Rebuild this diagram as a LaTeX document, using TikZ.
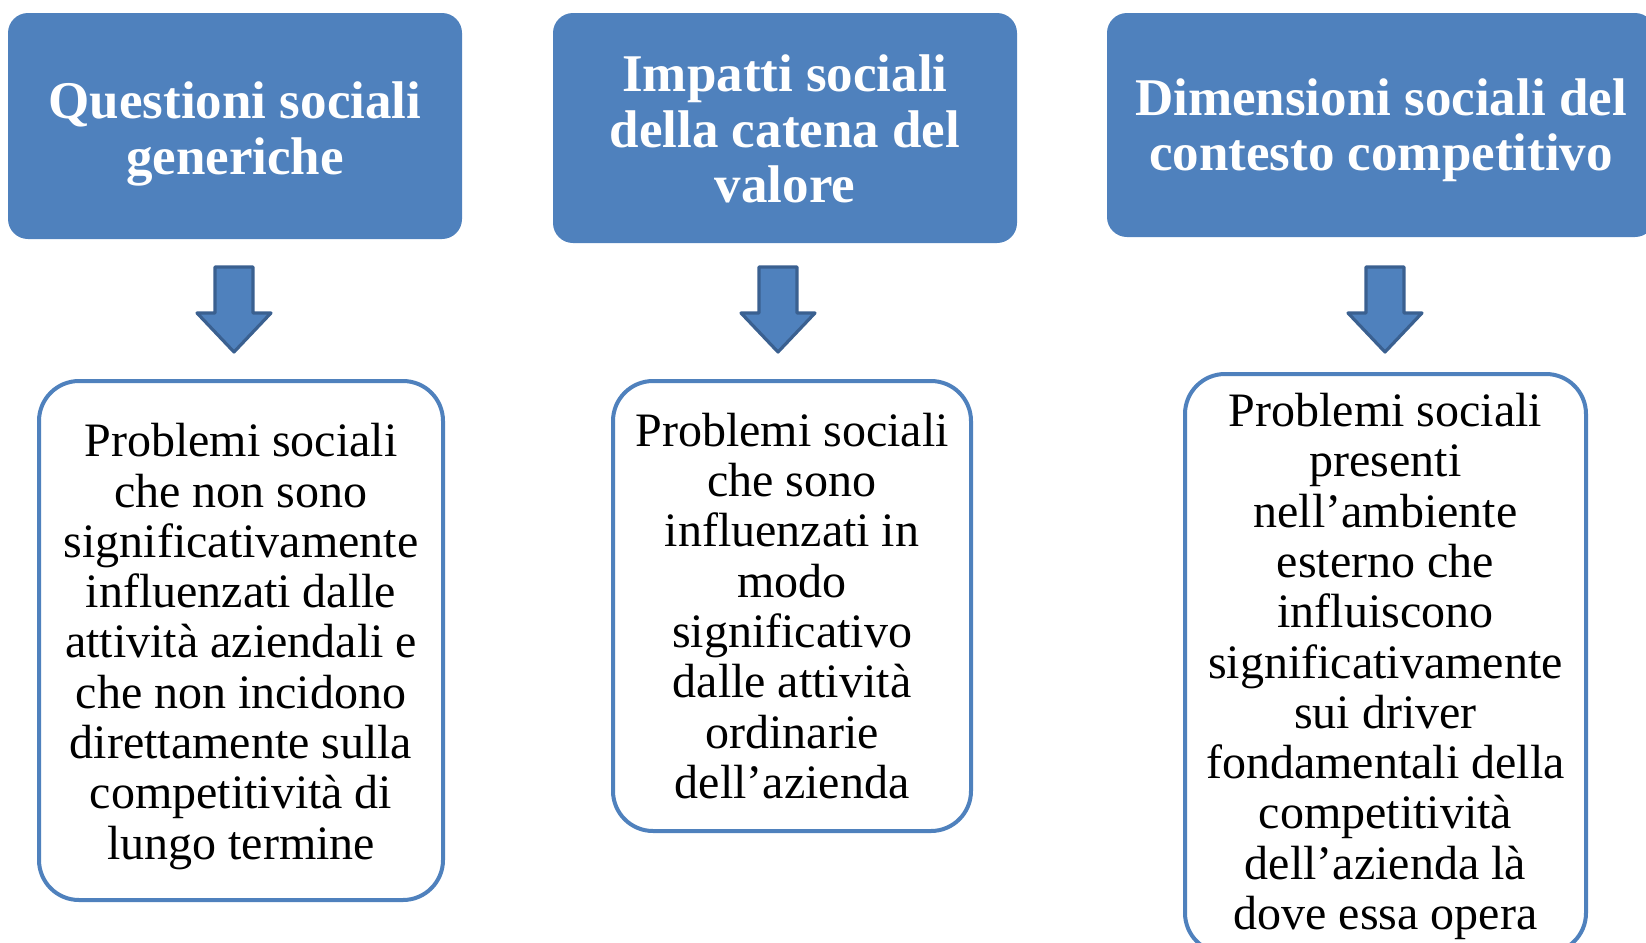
\documentclass[tikz,border=0pt]{standalone}
\usepackage{fontspec}
\setmainfont{Liberation Serif}
\usepackage{xcolor}
\usepackage{tikz}
\usetikzlibrary{calc}

\definecolor{boxblue}{HTML}{4F81BD}
\definecolor{arrowedge}{HTML}{3A6090}

\tikzset{
  headbox/.style={fill=boxblue, rounded corners=10pt, inner sep=0pt},
  headtext/.style={align=center, text=white, inner sep=0pt,
    font=\fontsize{26.5}{27.6}\selectfont\bfseries},
  textbox/.style={draw=boxblue, line width=2pt, fill=white, rounded corners=20pt, inner sep=0pt},
  bodytext/.style={align=center, inner sep=0pt, font=\fontsize{24}{25.15}\selectfont},
  downarrow/.pic={
    \draw[fill=boxblue, draw=arrowedge, line width=1.6pt, line join=round]
      (-19,0) -- (19,0) -- (19,46) -- (37,46) -- (0,85) -- (-37,46) -- (-19,46) -- cycle;
  }
}

\begin{document}
\begin{tikzpicture}[x=0.5pt,y=-0.5pt]
                \useasboundingbox (0,0) rectangle (1646,943);
                \clip (0,0) rectangle (1646,943);
                % intestazioni
                \node[headbox, minimum width=227pt, minimum height=113pt] (q1) at (235,126) {};
                \node[headtext] (q1t) at ($(q1)+(0,8)$) {Questioni sociali\\generiche};
                \node[headbox, minimum width=232pt, minimum height=115pt] (q2) at (785,128) {};
                \node[headtext] (q2t) at ($(q2)+(0,1)$) {Impatti sociali\\della catena del\\valore};
                \node[headbox, minimum width=274pt, minimum height=112pt] (q3) at (1381,125) {};
                \node[headtext] (q3t) at ($(q3)+(0,5)$) {Dimensioni sociali del\\contesto competitivo};
                % frecce
                \coordinate (a1) at (234,267);
                \coordinate (a2) at (778,267);
                \coordinate (a3) at (1385,267);
                \pic at (a1) {downarrow};
                \pic at (a2) {downarrow};
                \pic at (a3) {downarrow};
                % descrizioni
                \node[textbox, minimum width=202pt, minimum height=259.5pt] (p1) at (241,640.5) {};
                \node[bodytext] (p1t) at ($(p1)+(0,6)$)
                  {Problemi sociali\\che non sono\\significativamente\\influenzati dalle\\attività aziendali e\\che non incidono\\direttamente sulla\\competitività di\\lungo termine};
                \node[textbox, minimum width=179pt, minimum height=225pt] (p2) at (792,606) {};
                \node[bodytext] (p2t) at (p2)
                  {Problemi sociali\\che sono\\influenzati in\\modo\\significativo\\dalle attività\\ordinarie\\dell’azienda};
                \node[textbox, minimum width=200.5pt, minimum height=289.5pt] (p3) at (1385.5,663.5) {};
                \node[bodytext] (p3t) at ($(p3)+(0,3)$)
                  {Problemi sociali\\presenti\\nell’ambiente\\esterno che\\influiscono\\significativamente\\sui driver\\fondamentali della\\competitività\\dell’azienda là\\dove essa opera};
\end{tikzpicture}
\end{document}
